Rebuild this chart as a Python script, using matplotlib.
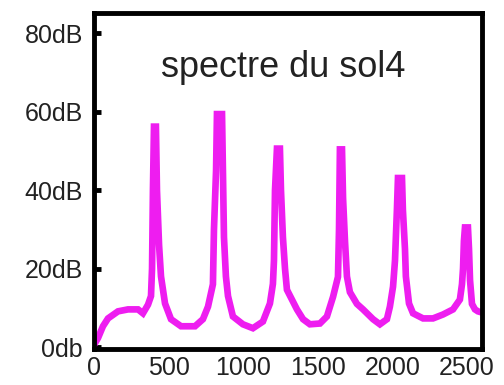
import matplotlib
matplotlib.use("Agg")
import matplotlib.pyplot as plt

# Spectrum of sol4 (frequency in Hz, level in dB)
freq_hz = [7, 27, 60, 94, 161, 228, 295, 328, 362, 382,
           389, 395, 402, 415, 422, 436, 449, 476,
           516, 583, 677, 730, 764, 797,
           804, 818, 824, 858, 864, 871, 884, 898,
           931, 998, 1065, 1132, 1179, 1199,
           1206, 1213, 1226, 1246, 1253, 1266, 1280,
           1293, 1360, 1401, 1447, 1514, 1561, 1602, 1635,
           1642, 1648, 1662, 1669, 1682, 1695,
           1715, 1762, 1803, 1870, 1916, 1963, 1983, 2004,
           2017, 2030, 2037, 2064, 2070, 2084, 2090,
           2111, 2138, 2205, 2272, 2339, 2406, 2452, 2466,
           2473, 2479, 2486, 2506, 2513, 2520, 2533,
           2553, 2573, 2600]
level_db = [1.0, 2.3, 5.3, 7.3, 9.1, 9.6, 9.6, 8.6, 10.8, 13.0,
            20, 40, 56.2, 56.2, 40, 26, 18, 11.1,
            7.1, 5.3, 5.3, 7.1, 10.3, 16.0,
            30, 45, 59.4, 59.4, 45, 28, 18, 13.0,
            7.8, 5.8, 4.8, 6.5, 11.1, 16.1,
            22, 40, 50.6, 50.6, 40, 28, 20,
            14.6, 9.6, 7.1, 5.8, 6.0, 7.8, 12.8, 17.9,
            30, 50.4, 50.4, 38, 27, 18,
            14.0, 11.0, 9.6, 7.1, 5.8, 7.1, 10.3, 15.4,
            22, 35, 43.1, 43.1, 35, 25, 18,
            11.1, 8.6, 7.3, 7.3, 8.3, 9.6, 12.1, 16.0,
            20, 27, 30.5, 30.5, 25, 17, 11,
            9.6, 9.1, 8.8]

y_ticks = [0, 20, 40, 60, 80]
y_tick_labels = ["0db", "20dB", "40dB", "60dB", "80dB"]
x_ticks = [0, 500, 1000, 1500, 2000, 2500]
x_tick_labels = ["0", "500", "1000", "1500", "2000", "2500"]
title_text = "spectre du sol4"

plt.rcParams['font.family'] = ['Liberation Sans', 'DejaVu Sans']

fig = plt.figure(figsize=(5.04, 3.85), dpi=100)
ax = fig.add_axes([0.1865, 0.0935, 0.9563 - 0.1865, 0.9675 - 0.0935])

ax.plot(freq_hz, level_db, color="#EE1DF0", lw=4.8, solid_joinstyle="miter")

ax.set_xlim(0, 2600)
ax.set_ylim(-0.5, 85.3)
ax.set_yticks(y_ticks)
ax.set_yticklabels(y_tick_labels)
ax.set_xticks(x_ticks)
ax.set_xticklabels(x_tick_labels)

ax.tick_params(axis="y", direction="in", length=5, width=3.5, labelsize=18,
               pad=8, colors="black", labelcolor="#222222")
ax.tick_params(axis="x", length=0, labelsize=18, pad=5, labelcolor="#222222")

for s in ax.spines.values():
    s.set_linewidth(3.5)
    s.set_color("black")

ax.text(0.487, 0.838, title_text, transform=ax.transAxes, ha="center",
        va="center", fontsize=26, color="#222222")

fig.savefig("out.png", dpi=100)
